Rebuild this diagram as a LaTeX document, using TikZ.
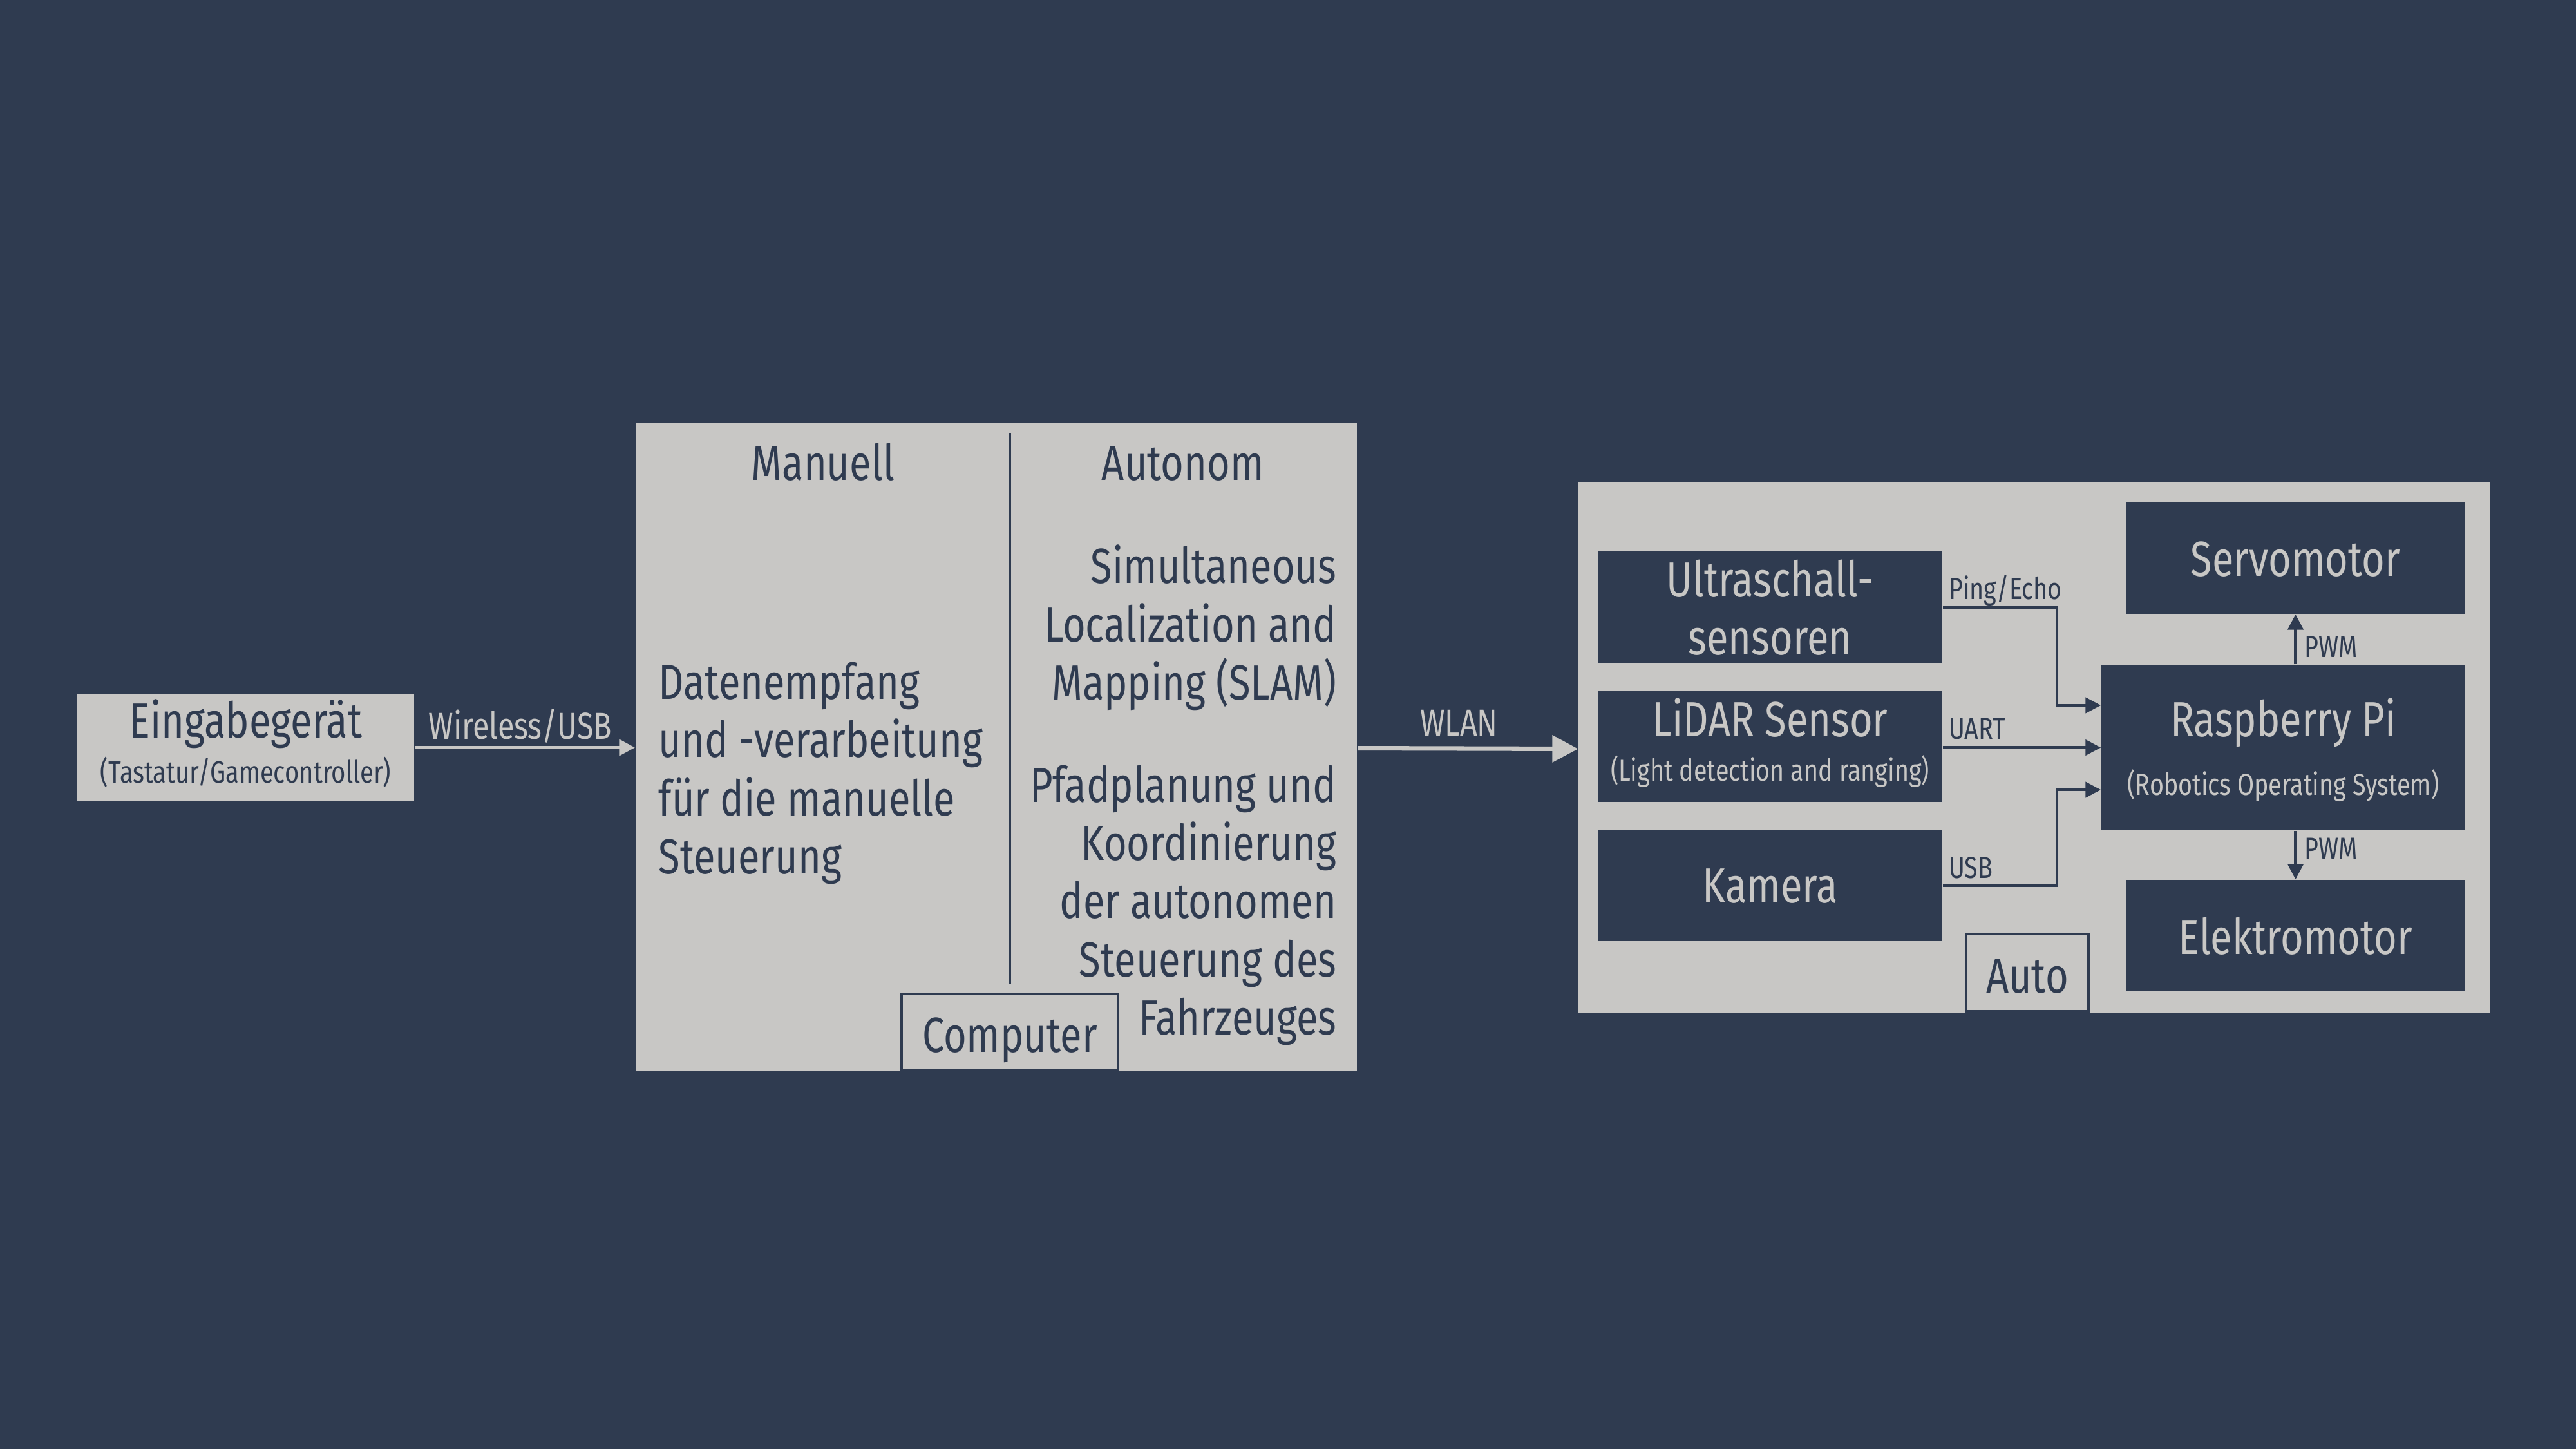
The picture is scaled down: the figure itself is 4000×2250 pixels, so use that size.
\documentclass[tikz,border=0pt]{standalone}
\usepackage{fontspec}
\setmainfont[FakeStretch=0.8]{Fira Sans}
\usetikzlibrary{arrows.meta}
\definecolor{bg}{RGB}{47,59,80}
\definecolor{lite}{RGB}{200,199,197}
\newcommand{\fbig}{\fontsize{21.8}{25.6}\selectfont}
\newcommand{\fmid}{\fontsize{16.6}{20}\selectfont}
\newcommand{\fsub}{\fontsize{13.6}{16}\selectfont}
\newcommand{\fsml}{\fontsize{13.4}{15}\selectfont}
\tikzset{
  darkbox/.style={fill=bg, draw=none, inner sep=0pt, text=lite, align=center},
  litebox/.style={fill=lite, draw=none, inner sep=0pt},
  tagbox/.style={fill=lite, draw=bg, line width=1.2pt, inner sep=0pt, text=bg},
  darkarrow/.style={draw=bg, line width=1.3pt, -{Triangle[length=6.8pt,width=6.8pt]}},
  litearrow/.style={draw=lite, line width=1.6pt, -{Triangle[length=7pt,width=7pt]}},
  bigarrow/.style={draw=lite, line width=2pt, -{Triangle[length=11.4pt,width=11.6pt]}},
  txt/.style={inner sep=0pt, text=bg},
  bigtxt/.style={inner sep=0pt, text=bg, font=\fbig},
}
\begin{document}
\begin{tikzpicture}[x=0.01cm,y=-0.01cm]
\fill[bg] (0,0) rectangle (4000,2250);
\useasboundingbox (0,0) rectangle (4000,2250);

% Eingabegeraet
\node[litebox, minimum width=5.23cm, minimum height=1.64cm] (ein) at (381.5,1160.5) {};
\node[bigtxt, anchor=base] (einT) at (381.5,1145) {Eingabegerät};
\node[txt, font=\fsub, anchor=base] (einS) at (381.5,1215) {(Tastatur/Gamecontroller)};

% Computer
\node[litebox, minimum width=11.2cm, minimum height=10.07cm] (comp) at (1547,1159.5) {};
\coordinate (divT) at (1568,672);
\coordinate (divB) at (1568,1527);
\draw[bg, line width=1.2pt] (divT) -- (divB);
\node[bigtxt, anchor=base] (man) at (1278,745) {Manuell};
\node[bigtxt, anchor=base] (aut) at (1837,745) {Autonom};
\node[bigtxt, anchor=base west, align=left] (manT) at (1022,1356) {Datenempfang\\ und -verarbeitung\\ für die manuelle\\ Steuerung};
\node[bigtxt, anchor=base east, align=right] (slam) at (2076,1086) {Simultaneous\\ Localization and\\ Mapping (SLAM)};
\node[bigtxt, anchor=base east, align=right] (pfad) at (2076,1606) {Pfadplanung und\\ Koordinierung\\ der autonomen\\ Steuerung des\\ Fahrzeuges};
\node[tagbox, minimum width=3.36cm, minimum height=1.18cm, anchor=south] (compTag) at (1568,1663) {};
\node[bigtxt, anchor=base] at (1568,1633) {Computer};

% Auto
\node[litebox, minimum width=14.14cm, minimum height=8.23cm] (auto) at (3158.5,1160.5) {};
\node[darkbox, minimum width=5.35cm, minimum height=1.73cm] (ultra) at (2748.5,942.5) {};
\node[bigtxt, text=lite, anchor=base, align=center] at (2748.5,1016) {Ultraschall-\\ sensoren};
\node[darkbox, minimum width=5.35cm, minimum height=1.73cm] (lidar) at (2748.5,1158.5) {};
\node[bigtxt, text=lite, anchor=base] at (2748.5,1143) {LiDAR Sensor};
\node[txt, font=\fsml, text=lite, anchor=base] at (2748.5,1212) {(Light detection and ranging)};
\node[darkbox, minimum width=5.35cm, minimum height=1.73cm] (kam) at (2748.5,1374.5) {};
\node[bigtxt, text=lite, anchor=base] at (2748.5,1401) {Kamera};
\node[darkbox, minimum width=5.27cm, minimum height=1.73cm] (servo) at (3564.5,866.5) {};
\node[bigtxt, text=lite, anchor=base] at (3564.5,894) {Servomotor};
\node[darkbox, minimum width=5.65cm, minimum height=2.57cm] (rpi) at (3545.5,1160.5) {};
\node[bigtxt, text=lite, anchor=base] at (3545.5,1143) {Raspberry Pi};
\node[txt, font=\fsml, text=lite, anchor=base] at (3545.5,1234) {(Robotics Operating System)};
\node[darkbox, minimum width=5.27cm, minimum height=1.73cm] (elek) at (3564.5,1452.5) {};
\node[bigtxt, text=lite, anchor=base] at (3564.5,1481) {Elektromotor};
\node[tagbox, minimum width=1.9cm, minimum height=1.2cm, anchor=south] (autoTag) at (3148,1572) {};
\node[bigtxt, anchor=base] at (3148,1541) {Auto};

% connectors
\draw[litearrow] (ein.east) -- node[txt, font=\fmid, text=lite, anchor=base, pos=0.48, yshift=0.13cm] {Wireless/USB} (comp.west |- ein.east);
\draw[bigarrow] ([yshift=-0.02cm]comp.east) -- node[txt, font=\fmid, text=lite, anchor=base, pos=0.46, yshift=0.19cm] {WLAN} ([yshift=-0.02cm]auto.west);

\draw[darkarrow] (ultra.east) -- node[txt, font=\fsml, anchor=base west, pos=0, xshift=0.07cm, yshift=0.12cm] {Ping/Echo} ++(177,0) |- ([yshift=0.655cm]rpi.west);
\draw[darkarrow] (lidar.east |- rpi.west) -- node[txt, font=\fsml, anchor=base west, pos=0, xshift=0.07cm, yshift=0.13cm] {UART} (rpi.west);
\draw[darkarrow] (kam.east) -- node[txt, font=\fsml, anchor=base west, pos=0, xshift=0.07cm, yshift=0.11cm] {USB} ++(177,0) |- ([yshift=-0.655cm]rpi.west);
\draw[darkarrow] (rpi.north -| servo.south) -- node[txt, font=\fsml, anchor=west, xshift=0.12cm, yshift=-0.12cm] {PWM} (servo.south);
\draw[darkarrow] (rpi.south -| elek.north) -- node[txt, font=\fsml, anchor=west, xshift=0.12cm, yshift=0.1cm] {PWM} (elek.north);
\end{tikzpicture}
\end{document}
